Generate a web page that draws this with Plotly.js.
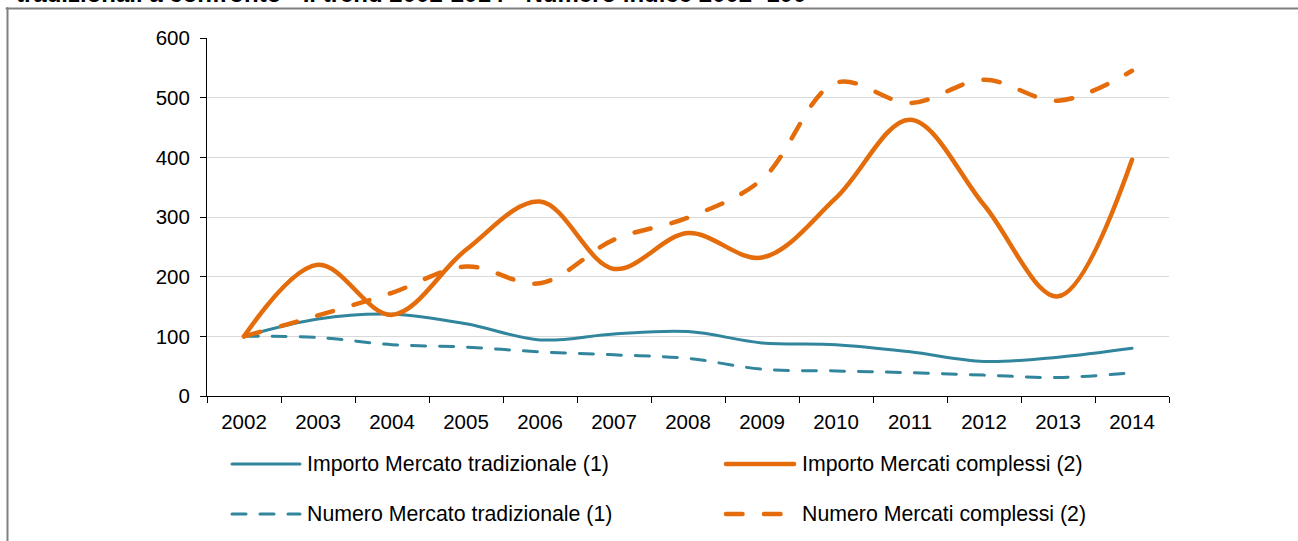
<!DOCTYPE html>
<html>
<head>
<meta charset="utf-8">
<script src="https://cdn.plot.ly/plotly-3.0.1.min.js"></script>
<style>
  html, body { margin: 0; padding: 0; background: #fff; }
  #chart { width: 1298px; height: 541px; }
  .scatterlayer .js-line { stroke-linecap: round; }
  .shapelayer path { stroke-linecap: round; }
</style>
</head>
<body>
<div id="chart"></div>
<script>
// ---- data ----
var years = ['2002','2003','2004','2005','2006','2007','2008','2009','2010','2011','2012','2013','2014'];
var importoTradizionale = [100, 129, 137, 121, 94, 104, 108, 89, 86, 74, 58, 65, 80];
var importoComplessi    = [100, 220, 136, 245, 326, 213, 273, 232, 332, 463, 320, 167, 396];
var numeroTradizionale  = [100, 98, 86, 82, 74, 69, 63, 45, 42, 39, 35, 31, 39];
var numeroComplessi     = [100, 135, 173, 217, 189, 262, 299, 363, 525, 491, 530, 495, 545];
var seriesNames = [
  'Importo Mercato tradizionale (1)',
  'Importo Mercati complessi (2)',
  'Numero Mercato tradizionale (1)',
  'Numero Mercati complessi (2)'
];
var titleText = 'tradizionali a confronto - Il trend 2002-2014 - Numero indice 2002=100';
var yTicks = [0, 100, 200, 300, 400, 500, 600];

// ---- styles ----
var TEAL = '#31859C', ORANGE = '#E46C0A';
var FONT = 'Arial, "Liberation Sans", sans-serif';
var W = 1298, H = 541, ML = 207, MR = 129, MT = 38, MB = 145;
var PW = W - ML - MR, PH = H - MT - MB;
function px2x(p) { return (p - ML) / PW; }
function px2y(p) { return (H - MB - p) / PH; }

var teal = {color: TEAL, width: 3, shape: 'spline', smoothing: 1};
var tealDash = {color: TEAL, width: 3, shape: 'spline', smoothing: 1, dash: '14px,14px'};
var orange = {color: ORANGE, width: 4.5, shape: 'spline', smoothing: 1};
var orangeDash = {color: ORANGE, width: 4.5, shape: 'spline', smoothing: 1, dash: '16.5px,21.5px'};

var traces = [
  {x: years, y: importoTradizionale, name: seriesNames[0], mode: 'lines', line: teal, showlegend: false},
  {x: years, y: numeroTradizionale, name: seriesNames[2], mode: 'lines', line: tealDash, showlegend: false},
  {x: years, y: numeroComplessi, name: seriesNames[3], mode: 'lines', line: orangeDash, showlegend: false},
  {x: years, y: importoComplessi, name: seriesNames[1], mode: 'lines', line: orange, showlegend: false}
];

// custom legend (two columns, two rows)
var legendRows = [464, 514];
var legendCols = [{x0: 232, x1: 300, tx: 305}, {x0: 726, x1: 794, tx: 800}];
var legendItems = [
  {col: 0, row: 0, line: teal, name: seriesNames[0]},
  {col: 1, row: 0, line: orange, name: seriesNames[1]},
  {col: 0, row: 1, line: tealDash, name: seriesNames[2]},
  {col: 1, row: 1, line: orangeDash, name: seriesNames[3]}
];

var shapes = [
  // outer frame (top and left)
  {type: 'line', xref: 'paper', yref: 'paper', x0: px2x(6.5), x1: px2x(1302), y0: px2y(8.5), y1: px2y(8.5),
   line: {color: '#808080', width: 2}},
  {type: 'line', xref: 'paper', yref: 'paper', x0: px2x(7.5), x1: px2x(7.5), y0: px2y(8), y1: px2y(545),
   line: {color: '#808080', width: 2}}
];
var annotations = [
  {xref: 'paper', yref: 'paper', x: px2x(14), y: px2y(-6.5), xanchor: 'left', yanchor: 'middle',
   text: '<b>' + titleText + '</b>', showarrow: false, font: {family: FONT, size: 24, color: '#000'}}
];
legendItems.forEach(function (it) {
  var c = legendCols[it.col], yy = legendRows[it.row];
  var ln = {color: it.line.color, width: it.line.width};
  if (it.line.dash) ln.dash = it.line.dash;
  shapes.push({type: 'line', xref: 'paper', yref: 'paper', x0: px2x(c.x0), x1: px2x(c.x1),
               y0: px2y(yy), y1: px2y(yy), line: ln});
  annotations.push({xref: 'paper', yref: 'paper', x: px2x(c.tx), y: px2y(yy), xanchor: 'left', yanchor: 'middle',
                    text: it.name, showarrow: false, font: {family: FONT, size: 21.3, color: '#000'}});
});

var layout = {
  width: W, height: H,
  margin: {l: ML, r: MR, t: MT, b: MB, pad: 0},
  paper_bgcolor: '#fff', plot_bgcolor: '#fff',
  font: {family: FONT, size: 20, color: '#000'},
  showlegend: false,
  xaxis: {
    type: 'category', range: [-0.5, 12.5], tickson: 'boundaries',
    ticks: 'outside', ticklen: 6, tickwidth: 1, tickcolor: '#000',
    ticklabelstandoff: 7,
    showline: true, linecolor: '#000', linewidth: 1,
    showgrid: false, zeroline: false, fixedrange: true,
    tickfont: {family: FONT, size: 20.5, color: '#000'}
  },
  yaxis: {
    range: [0, 600], tickvals: yTicks, ticktext: yTicks.map(String),
    ticks: 'outside', ticklen: 6, tickwidth: 1, tickcolor: '#000',
    ticklabelstandoff: 6,
    showline: true, linecolor: '#000', linewidth: 1,
    showgrid: true, gridcolor: '#D9D9D9', gridwidth: 1,
    zeroline: false, fixedrange: true,
    tickfont: {family: FONT, size: 20.5, color: '#000'}
  },
  shapes: shapes,
  annotations: annotations
};

Plotly.newPlot('chart', traces, layout, {displayModeBar: false, staticPlot: true});
</script>
</body>
</html>
